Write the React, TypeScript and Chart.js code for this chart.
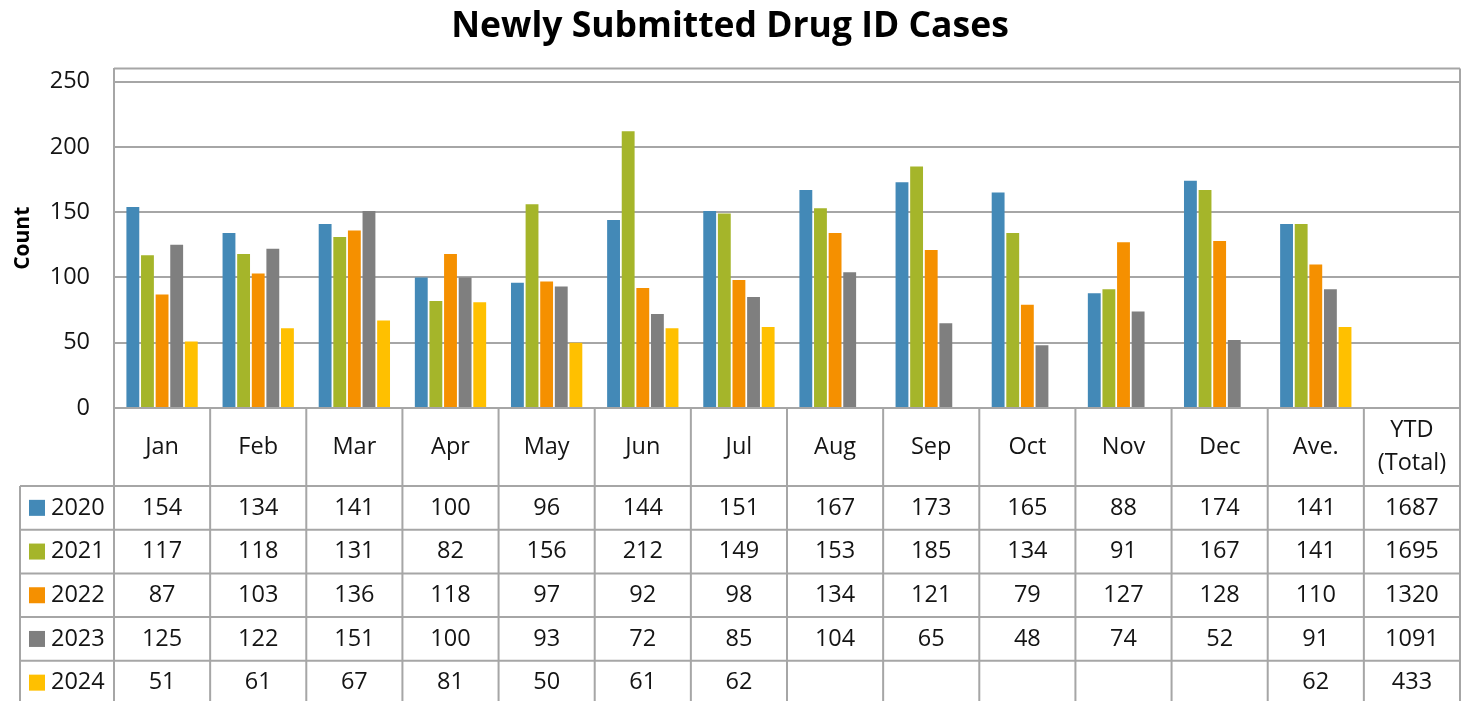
import React, { useEffect, useRef } from 'react';
import { Chart, registerables } from 'chart.js';

Chart.register(...registerables);

const categories: (string | string[])[] = ['Jan', 'Feb', 'Mar', 'Apr', 'May', 'Jun', 'Jul', 'Aug', 'Sep', 'Oct', 'Nov', 'Dec', 'Ave.', ['YTD', '(Total)']];
const years = ['2020', '2021', '2022', '2023', '2024'];
const v2020: (number | null)[] = [154, 134, 141, 100, 96, 144, 151, 167, 173, 165, 88, 174, 141];
const v2021: (number | null)[] = [117, 118, 131, 82, 156, 212, 149, 153, 185, 134, 91, 167, 141];
const v2022: (number | null)[] = [87, 103, 136, 118, 97, 92, 98, 134, 121, 79, 127, 128, 110];
const v2023: (number | null)[] = [125, 122, 151, 100, 93, 72, 85, 104, 65, 48, 74, 52, 91];
const v2024: (number | null)[] = [51, 61, 67, 81, 50, 61, 62, null, null, null, null, null, 62];
const ytdTotals = [1687, 1695, 1320, 1091, 433];
const seriesValues = [v2020, v2021, v2022, v2023, v2024];
const colors = ['#4389B7', '#A5B52A', '#F59000', '#7F7F7F', '#FFC000'];

const FONT = "'Open Sans', 'Noto Sans', sans-serif";
const LINE = '#a6a6a6';
const TEXT = '#141414';

const tablePlugin = {
  id: 'dataTable',
  afterDraw(chart: any) {
    const ctx = chart.ctx as CanvasRenderingContext2D;
    const area = chart.chartArea;
    const xs = chart.scales.x;
    const n = categories.length;
    const colW = (area.right - area.left) / n;
    const H = chart.height;
    const headerH = 78;
    const rowH = 43.7;
    const legendLeft = 20;
    const rowsTop = area.bottom + headerH;

    ctx.save();
    ctx.strokeStyle = LINE;
    ctx.lineWidth = 2;
    ctx.beginPath();
    ctx.moveTo(area.left, area.top);
    ctx.lineTo(area.right, area.top);
    ctx.moveTo(area.right, area.top);
    ctx.lineTo(area.right, area.bottom);
    ctx.stroke();

    ctx.beginPath();
    for (let i = 0; i <= n; i++) {
      const x = i < n ? xs.getPixelForValue(i) - colW / 2 : xs.getPixelForValue(n - 1) + colW / 2;
      ctx.moveTo(x, area.bottom);
      ctx.lineTo(x, H + 5);
    }
    ctx.moveTo(legendLeft, rowsTop);
    ctx.lineTo(legendLeft, H + 5);
    for (let r = 0; r <= years.length; r++) {
      const y = rowsTop + r * rowH;
      ctx.moveTo(legendLeft, y);
      ctx.lineTo(area.right, y);
    }
    ctx.moveTo(area.left, area.bottom);
    ctx.lineTo(area.right, area.bottom);
    ctx.stroke();

    ctx.fillStyle = TEXT;
    ctx.font = `23.5px ${FONT}`;
    ctx.textAlign = 'center';
    ctx.textBaseline = 'middle';
    const headerMid = area.bottom + headerH / 2;
    categories.forEach((c, i) => {
      const x = xs.getPixelForValue(i);
      const lines = Array.isArray(c) ? c : [c];
      const lh = 33;
      lines.forEach((t, k) => {
        ctx.fillText(t, x, headerMid + (k - (lines.length - 1) / 2) * lh);
      });
    });

    years.forEach((yr, r) => {
      const yMid = rowsTop + r * rowH + rowH / 2;
      ctx.fillStyle = colors[r];
      ctx.fillRect(29, yMid - 8, 16, 16);
      ctx.fillStyle = TEXT;
      ctx.textAlign = 'left';
      ctx.fillText(yr, 51, yMid);
      ctx.textAlign = 'center';
      const vals = seriesValues[r];
      vals.forEach((v, i) => {
        if (v === null || v === undefined) return;
        ctx.fillText(String(v), xs.getPixelForValue(i), yMid);
      });
      ctx.fillText(String(ytdTotals[r]), xs.getPixelForValue(n - 1), yMid);
    });
    ctx.restore();
  },
};

export default function App() {
  const ref = useRef<HTMLCanvasElement | null>(null);
  useEffect(() => {
    document.body.style.margin = '0';
    const canvas = ref.current!;
    const chart = new Chart(canvas, {
      type: 'bar',
      data: {
        labels: categories as any,
        datasets: years.map((y, i) => ({
          label: y,
          data: [...seriesValues[i], null],
          backgroundColor: colors[i],
          borderWidth: 0,
          categoryPercentage: 0.76,
          barPercentage: 0.88,
        })),
      },
      options: {
        responsive: false,
        animation: false,
        devicePixelRatio: 1,
        layout: { padding: { left: 0, right: 1, top: 0, bottom: 293 } },
        plugins: {
          legend: { display: false },
          tooltip: { enabled: false },
          title: {
            display: true,
            text: 'Newly Submitted Drug ID Cases',
            color: '#000',
            font: { family: FONT, size: 35.5, weight: 'bold', lineHeight: 1.2 },
            padding: { top: 6, bottom: 20 },
          },
        },
        scales: {
          x: { display: false },
          y: {
            min: 0,
            max: 260,
            afterFit: (s: any) => { s.width = 114; },
            ticks: { stepSize: 50, includeBounds: false, padding: 24, color: TEXT, font: { family: FONT, size: 23.5 } },
            grid: { color: LINE, lineWidth: 2, drawTicks: false },
            border: { display: true, color: LINE, width: 2 },
            title: {
              display: true,
              text: 'Count',
              color: '#000',
              font: { family: FONT, size: 21, weight: 'bold', lineHeight: 1.2 },
              padding: { top: 10, bottom: 0 },
            },
          },
        },
      },
      plugins: [tablePlugin],
    });
    return () => chart.destroy();
  }, []);
  return (
    <div style={{ width: 1461, height: 701 }}>
      <canvas ref={ref} width={1461} height={701} style={{ display: 'block' }} />
    </div>
  );
}
